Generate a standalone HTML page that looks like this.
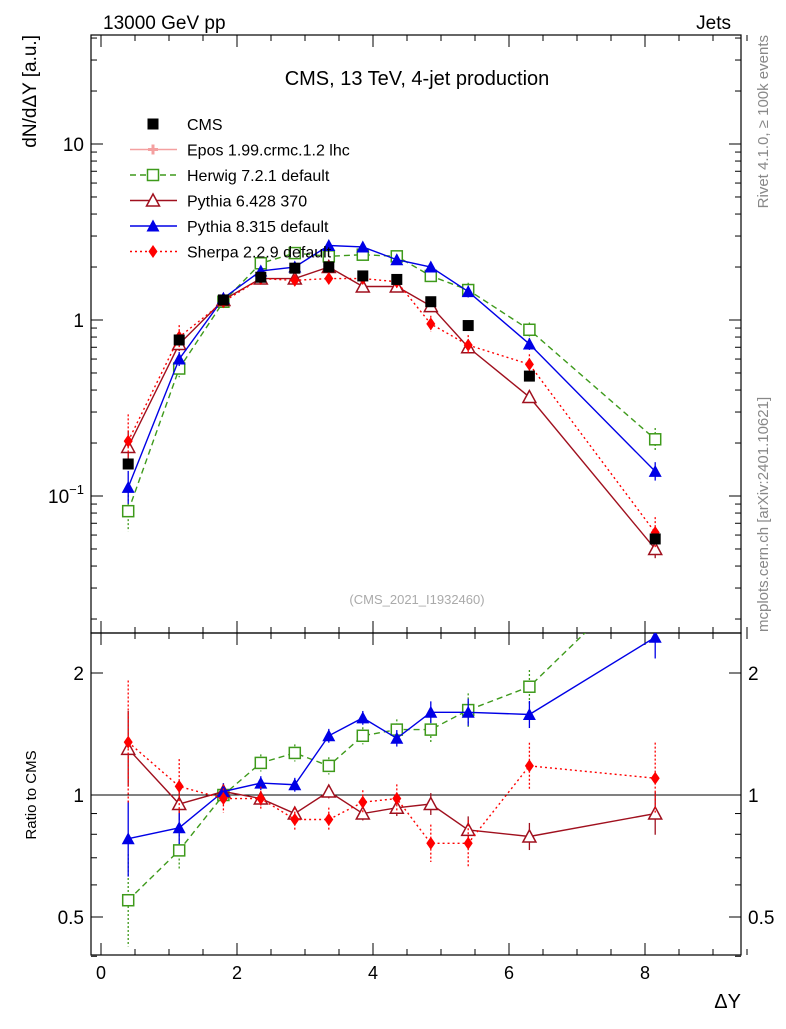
<!DOCTYPE html>
<html><head><meta charset="utf-8"><style>
body{margin:0;background:#fff;}
svg text{font-family:"Liberation Sans","DejaVu Sans",sans-serif;}
</style></head><body>
<svg id="c" width="786" height="1024" xmlns="http://www.w3.org/2000/svg">
<rect width="786" height="1024" fill="#fff"/>
<text x="103" y="29" font-size="19">13000 GeV pp</text>
<text x="731" y="29" font-size="19" text-anchor="end">Jets</text>
<text x="417" y="85" font-size="20" text-anchor="middle">CMS, 13 TeV, 4-jet production</text>
<text transform="translate(36,35) rotate(-90)" font-size="19" text-anchor="end">dN/dΔY [a.u.]</text>
<text transform="translate(36,795) rotate(-90)" font-size="15" text-anchor="middle">Ratio to CMS</text>
<text transform="translate(768,35) rotate(-90)" font-size="15" fill="#888" text-anchor="end">Rivet 4.1.0, ≥ 100k events</text>
<text transform="translate(768,632) rotate(-90)" font-size="15" fill="#888" text-anchor="start">mcplots.cern.ch [arXiv:2401.10621]</text>
<text x="417" y="604" font-size="13" fill="#aaa" text-anchor="middle">(CMS_2021_I1932460)</text>
<text x="741" y="1008" font-size="20" text-anchor="end">ΔY</text>
<g id="plot"></g>
</svg>
<script>
const xs=[0.4,1.15,1.8,2.35,2.85,3.35,3.85,4.35,4.85,5.4,6.3,8.15];
const cms=[0.152,0.77,1.3,1.75,1.97,2.0,1.78,1.7,1.27,0.93,0.48,0.057];
const herwig=[0.082,0.53,1.27,2.1,2.4,2.3,2.35,2.3,1.78,1.48,0.88,0.21];
const pythia6=[0.19,0.73,1.3,1.72,1.72,2.0,1.55,1.55,1.2,0.7,0.365,0.05];
const pythia8=[0.112,0.6,1.33,1.9,2.0,2.65,2.6,2.2,2.0,1.45,0.73,0.138];
const sherpa=[0.205,0.8,1.27,1.72,1.68,1.72,1.72,1.65,0.95,0.72,0.56,0.062];
const rHerwig=[0.55,0.73,1.0,1.2,1.27,1.18,1.4,1.45,1.45,1.62,1.85,3.7];
const rPythia6=[1.3,0.95,1.02,0.98,0.9,1.02,0.9,0.93,0.95,0.82,0.79,0.9];
const rPythia8=[0.78,0.83,1.02,1.07,1.06,1.4,1.55,1.38,1.6,1.6,1.58,2.45];
const rSherpa=[1.35,1.05,0.98,0.98,0.87,0.87,0.96,0.98,0.76,0.76,1.18,1.1];
const relErr=[0.3,0.12,0.06,0.05,0.05,0.05,0.05,0.06,0.08,0.1,0.1,0.16];
const xTicks=[0,2,4,6,8];
const yTicks=[0.1,1,10];
const rTicks=[0.5,1,2];

const NS="http://www.w3.org/2000/svg";
const g=document.getElementById('plot');
const L=91,R=741,T=35,MB=633,RB=955;
const X=v=>101+68*v;
const Y=v=>320-176*Math.log10(v);
const YR=v=>795-122*Math.log2(v);
function el(tag,a,parent){const e=document.createElementNS(NS,tag);for(const k in a)e.setAttribute(k,a[k]);(parent||g).appendChild(e);return e;}

const defs=el('defs',{});const cp=el('clipPath',{id:'rclip'},defs);el('rect',{x:L,y:MB,width:R-L,height:RB-MB},cp);

let f=el('rect',{x:L,y:T,width:R-L,height:MB-T,fill:'none',stroke:'#000','stroke-width':1.2});


f=el('rect',{x:L,y:MB,width:R-L,height:RB-MB,fill:'none',stroke:'#000','stroke-width':1.2});


let one=el('line',{x1:L,x2:R,y1:YR(1),y2:YR(1),stroke:'#000','stroke-width':1});



for(let v=0;v<=9.5;v+=0.5){const major=Math.abs(v%2)<1e-9;const len=major?12:6;
 el('line',{x1:X(v),x2:X(v),y1:MB,y2:MB-len,stroke:'#000'});el('line',{x1:X(v),x2:X(v),y1:T,y2:T+len,stroke:'#000'});
 el('line',{x1:X(v),x2:X(v),y1:RB,y2:RB-len,stroke:'#000'});el('line',{x1:X(v),x2:X(v),y1:MB,y2:MB+len,stroke:'#000'});}
xTicks.forEach(v=>{const t=el('text',{x:X(v),y:979,'font-size':18,'text-anchor':'middle'});t.textContent=v;
 
 });
for(let d=-2;d<=1;d++)for(let m=1;m<10;m++){const v=m*Math.pow(10,d);const y=Y(v);if(y<T||y>MB)continue;const len=m==1?12:6;
 el('line',{x1:L,x2:L+len,y1:y,y2:y,stroke:'#000'});el('line',{x1:R,x2:R-len,y1:y,y2:y,stroke:'#000'});}
yTicks.forEach(v=>{const t=el('text',{x:L-7,y:Y(v)+7,'font-size':19,'text-anchor':'end'});
 if(v==0.1){t.innerHTML='10<tspan dy="-9" font-size="13">−1</tspan>';}else t.textContent=v;
 
 });
[0.4,0.5,0.6,0.7,0.8,0.9,1,2].forEach(v=>{const y=YR(v);const len=(v==0.5||v==1||v==2)?12:6;
 el('line',{x1:L,x2:L+len,y1:y,y2:y,stroke:'#000'});el('line',{x1:R,x2:R-len,y1:y,y2:y,stroke:'#000'});});
rTicks.forEach(v=>{[[L-7,'end'],[R+7,'start']].forEach(p=>{const t=el('text',{x:p[0],y:YR(v)+7,'font-size':19,'text-anchor':p[1]});t.textContent=v;
 
 });});

function marker(type,x,y,color,parent){
 const s=5.5;
 if(type=='sq')return el('rect',{x:x-s,y:y-s,width:2*s,height:2*s,fill:'#fff',stroke:color,'stroke-width':1.5},parent);
 if(type=='fsq')return el('rect',{x:x-s,y:y-s,width:2*s,height:2*s,fill:color},parent);
 if(type=='tri')return el('polygon',{points:`${x},${y-6.5} ${x-6.5},${y+5.5} ${x+6.5},${y+5.5}`,fill:'#fff',stroke:color,'stroke-width':1.5},parent);
 if(type=='ftri')return el('polygon',{points:`${x},${y-6.5} ${x-6.5},${y+5.5} ${x+6.5},${y+5.5}`,fill:color},parent);
 if(type=='dia')return el('polygon',{points:`${x},${y-6.5} ${x-4.5},${y} ${x},${y+6.5} ${x+4.5},${y}`,fill:color},parent);
 if(type=='cross')return el('path',{d:`M${x-5},${y}H${x+5}M${x},${y-5}V${y+5}`,stroke:color,'stroke-width':3},parent);
}
function clipY(y,top,bot){return Math.max(top,Math.min(bot,y));}
const series=[
 {name:'herwig',vals:herwig,r:rHerwig,c:'#3e9a1b',dash:'6,4',m:'sq',ef:1.0},
 {name:'pythia6',vals:pythia6,r:rPythia6,c:'#a0101e',dash:'',m:'tri',ef:0.8},
 {name:'pythia8',vals:pythia8,r:rPythia8,c:'#0000e6',dash:'',m:'ftri',ef:0.8},
 {name:'sherpa',vals:sherpa,r:rSherpa,c:'#ff0000',dash:'2,3',m:'dia',ef:1.4},
];
series.forEach(s=>{
 const grp=el('g',{});
 
 
 el('polyline',{points:xs.map((x,i)=>X(x)+','+Y(s.vals[i])).join(' '),fill:'none',stroke:s.c,'stroke-width':1.4,'stroke-dasharray':s.dash},grp);
 const rg=el('g',{'clip-path':'url(#rclip)'},grp);
 el('polyline',{points:xs.map((x,i)=>X(x)+','+YR(s.r[i])).join(' '),fill:'none',stroke:s.c,'stroke-width':1.4,'stroke-dasharray':s.dash},rg);
 xs.forEach((x,i)=>{
  const e=relErr[i]*s.ef,v=s.vals[i];
  el('line',{x1:X(x),x2:X(x),y1:Y(v*(1+e)),y2:Y(v/(1+e)),stroke:s.c,'stroke-width':1.3,'stroke-dasharray':s.dash?'2,2':''},grp);
  const pt=marker(s.m,X(x),Y(v),s.c,grp);
  
  
  const r=s.r[i];
  const y1=clipY(YR(r*(1+e)),MB,RB),y2=clipY(YR(r/(1+e)),MB,RB);
  el('line',{x1:X(x),x2:X(x),y1:y1,y2:y2,stroke:s.c,'stroke-width':1.3,'stroke-dasharray':s.dash?'2,2':''},rg);
  if(YR(r)>MB&&YR(r)<RB){const rp=marker(s.m,X(x),YR(r),s.c,rg);
   
   }
 });
});
xs.forEach((x,i)=>{const p=marker('fsq',X(x),Y(cms[i]),'#000');
 
 });

const legend=[['CMS','fsq','#000',''],['Epos 1.99.crmc.1.2 lhc','cross','#f4a0a0',''],['Herwig 7.2.1 default','sq','#3e9a1b','6,4'],
 ['Pythia 6.428 370','tri','#a0101e',''],['Pythia 8.315 default','ftri','#0000e6',''],['Sherpa 2.2.9 default','dia','#ff0000','2,3']];
legend.forEach((l,i)=>{const y=124+25.5*i;const lg=el('g',{});
 
 
 if(i>0)el('line',{x1:130,x2:177,y1:y,y2:y,stroke:l[2],'stroke-width':1.4,'stroke-dasharray':l[3]},lg);
 marker(l[1],153,y,l[2],lg);
 const t=el('text',{x:187,y:y+6,'font-size':16},lg);t.textContent=l[0];});
</script>
</body></html>
